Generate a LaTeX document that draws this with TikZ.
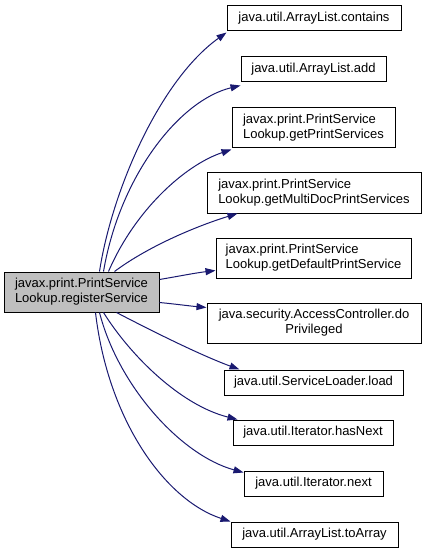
\documentclass[tikz,border=0pt]{standalone}
\usepackage{fontspec}
\setmainfont{Liberation Sans}
\usetikzlibrary{arrows.meta}
\definecolor{edgecol}{HTML}{191970}
\definecolor{mainfill}{HTML}{BFBFBF}
\begin{document}
\begin{tikzpicture}[x=1pt,y=-1pt,
  box/.style={draw=black,line width=1pt,rectangle,inner sep=0pt,font=\fontsize{13}{15}\selectfont},
  call/.style={draw=edgecol,line width=1pt,-{Triangle[length=10pt,width=7pt]},color=edgecol}]
\useasboundingbox (0,0) rectangle (427,553);
\node[box,fill=mainfill,minimum width=155pt,minimum height=40pt,align=left] (main) at (81.5,292) {javax.print.PrintService\\Lookup.registerService};
\node[box,minimum width=174pt,minimum height=25pt] (b1) at (314,18.5) {java.util.ArrayList.contains};
\node[box,minimum width=145pt,minimum height=25pt] (b2) at (313.5,69.5) {java.util.ArrayList.add};
\node[box,minimum width=163pt,minimum height=40pt,align=left] (b3) at (313.5,128) {javax.print.PrintService\\Lookup.getPrintServices};
\node[box,minimum width=214pt,minimum height=40pt,align=left] (b4) at (314,193) {javax.print.PrintService\\Lookup.getMultiDocPrintServices};
\node[box,minimum width=195pt,minimum height=40pt,align=left] (b5) at (313.5,258) {javax.print.PrintService\\Lookup.getDefaultPrintService};
\node[box,minimum width=214pt,minimum height=40pt,align=center] (b6) at (314,323) {java.security.AccessController.do\\Privileged};
\node[box,minimum width=179pt,minimum height=25pt] (b7) at (313.5,382.5) {java.util.ServiceLoader.load};
\node[box,minimum width=160pt,minimum height=25pt] (b8) at (313,432.5) {java.util.Iterator.hasNext};
\node[box,minimum width=139pt,minimum height=25pt] (b9) at (313.5,483.5) {java.util.Iterator.next};
\node[box,minimum width=167pt,minimum height=25pt] (b10) at (314.5,534.5) {java.util.ArrayList.toArray};
% edges
\draw[call] ([xshift=96pt]main.north west) .. controls (112,190) and (160,80) .. ([yshift=-1pt]b1.south west);
\draw[call] ([xshift=100pt]main.north west) .. controls (120,175) and (180,100) .. ([yshift=-3pt]b2.south west);
\draw[call] ([xshift=105pt]main.north west) .. controls (135,210) and (185,165) .. ([yshift=-1pt]b3.south west);
\draw[call] ([xshift=111pt]main.north west) .. controls (150,245) and (200,225) .. ([xshift=31pt]b4.south west);
\draw[call] ([yshift=-8pt]main.north east) .. controls (180,276) and (195,273) .. ([yshift=8pt]b5.south west);
\draw[call] ([yshift=10pt]main.south east) .. controls (175,304) and (190,306) .. ([yshift=-5pt]b6.north west);
\draw[call] ([xshift=113pt]main.south west) .. controls (150,330) and (200,355) .. ([xshift=16pt]b7.north west);
\draw[call] ([xshift=100pt]main.south west) .. controls (130,355) and (180,405) .. ([xshift=5pt]b8.north west);
\draw[call] ([xshift=96pt]main.south west) .. controls (118,385) and (180,455) .. ([yshift=-2pt]b9.north west);
\draw[call] ([xshift=92pt]main.south west) .. controls (108,420) and (165,500) .. (b10.north west);
\end{tikzpicture}
\end{document}
